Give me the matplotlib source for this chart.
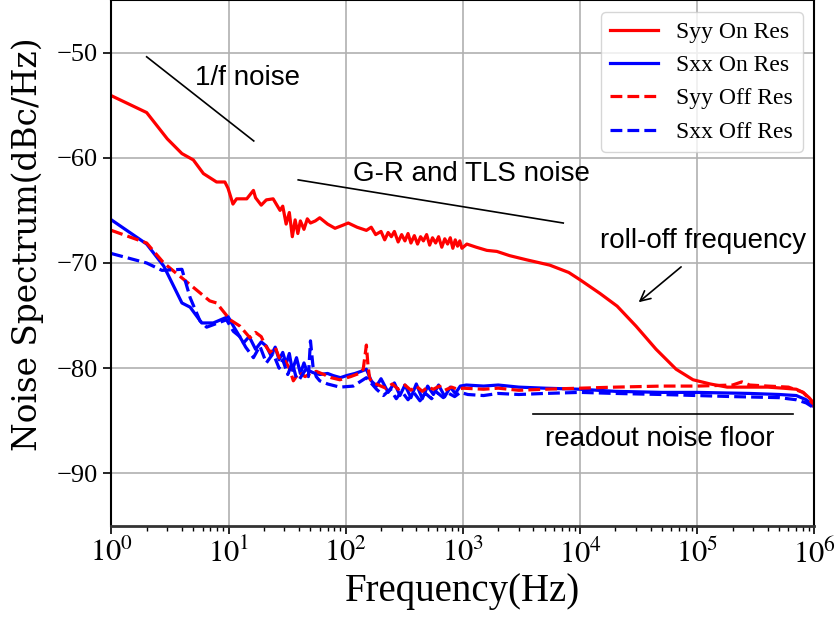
import matplotlib
matplotlib.use("Agg")
import matplotlib.pyplot as plt

plt.rcParams["font.family"] = "serif"
plt.rcParams["font.serif"] = ["Liberation Serif", "DejaVu Serif"]
plt.rcParams["mathtext.fontset"] = "stix"

# ---- data -----------------------------------------------------------
syy_on_f = [1, 2, 3, 4, 5, 6.1, 7.9, 9.3, 9.9, 10.9, 11.7, 14.3, 16.3, 17, 19, 21,
            24, 27.5, 29, 31, 33, 35, 37, 39, 41, 44, 47, 50, 55, 60, 70, 81, 95,
            105, 125, 150, 165, 180, 200, 215, 230, 245, 260, 280, 300, 320, 340,
            360, 385, 410, 435, 460, 490, 520, 550, 585, 620, 660, 700, 740, 780,
            820, 860, 900, 940, 980, 1080, 1300, 1600, 1950, 2500, 3500, 5500,
            8000, 10000, 14800, 20700, 30000, 44500, 66000, 92000, 129000,
            180000, 250000, 400000, 540000, 700000, 800000, 900000, 1e6]
syy_on = [-54.1, -55.7, -58.2, -59.6, -60.2, -61.5, -62.3, -62.3, -62.9, -64.4,
          -63.9, -63.9, -63.1, -63.8, -64.5, -64.0, -63.9, -65.0, -64.6, -66.3,
          -65.2, -67.5, -65.9, -67.2, -66.0, -66.8, -65.8, -66.2, -66.0, -65.7,
          -66.3, -66.7, -66.4, -66.2, -66.6, -66.9, -66.6, -67.3, -67.0, -67.8,
          -67.1, -67.5, -67.0, -68.0, -67.3, -67.9, -67.2, -68.1, -67.4, -68.2,
          -67.5, -67.9, -67.3, -68.3, -67.6, -68.1, -67.5, -68.5, -67.7, -68.2,
          -67.6, -68.6, -67.8, -68.4, -67.9, -68.6, -68.2, -68.5, -68.8, -68.9,
          -69.3, -69.7, -70.2, -70.9, -71.6, -72.9, -74.1, -76.0, -78.2, -80.1,
          -81.1, -81.5, -81.8, -81.8, -81.8, -81.9, -82.0, -82.3, -82.8, -83.4]

sxx_on_f = [1, 2, 2.8, 4.0, 4.7, 5.9, 7.4, 9.9, 11, 13.4, 15, 17, 19, 21, 23, 25,
            27, 29, 31, 33, 35, 38, 41, 44, 46, 52, 60, 70, 78, 90, 102, 120, 135,
            150, 165, 183, 200, 230, 260, 290, 320, 360, 400, 450, 500, 560, 620,
            700, 780, 860, 950, 1070, 1500, 2000, 3000, 5000, 10000, 20000,
            50000, 100000, 280000, 500000, 700000, 850000, 1e6]
sxx_on = [-65.9, -68.2, -70.3, -73.8, -74.2, -75.7, -75.7, -75.1, -76.0, -77.6,
          -77.0, -78.2, -77.5, -77.9, -78.8, -78.0, -79.2, -78.5, -79.6, -78.6,
          -80.2, -79.0, -80.5, -79.5, -80.1, -80.4, -80.6, -80.5, -80.7, -80.9,
          -80.7, -80.5, -80.3, -80.1, -81.2, -81.7, -81.0, -82.3, -81.4, -82.6,
          -81.6, -82.8, -81.5, -82.9, -81.7, -82.5, -81.6, -82.7, -81.8, -82.4,
          -81.7, -81.6, -81.7, -81.6, -81.8, -81.9, -82.0, -82.2, -82.3, -82.3,
          -82.4, -82.5, -82.6, -83.0, -83.7]

syy_off_f = [1, 2, 2.8, 4.4, 6.9, 7.9, 10.3, 12.5, 15.2, 17, 19, 20.5, 22.6, 25,
             27, 30, 33, 35.7, 40, 45, 50, 56, 65, 75, 89, 110, 130, 141, 150,
             155, 160, 172, 190, 220, 250, 280, 320, 360, 400, 450, 500, 560,
             630, 700, 800, 900, 1000, 1500, 2000, 3000, 5000, 10000, 20000,
             50000, 100000, 200000, 240000, 280000, 400000, 600000, 800000,
             900000, 1e6]
syy_off = [-66.9, -68.1, -70.0, -71.8, -73.6, -73.8, -75.4, -76.0, -77.1, -76.6,
           -77.0, -77.8, -78.5, -78.0, -79.0, -79.2, -80.0, -81.2, -80.4, -80.8,
           -80.5, -80.3, -80.6, -80.9, -81.1, -80.8, -80.5, -80.1, -77.8, -79.8,
           -81.0, -81.4, -81.6, -81.9, -81.5, -82.0, -81.6, -82.1, -81.7, -82.2,
           -81.8, -82.0, -81.7, -82.1, -81.8, -82.0, -81.9, -82.0, -81.9, -82.1,
           -82.0, -81.9, -81.8, -81.7, -81.7, -81.6, -81.3, -81.6, -81.7, -81.8,
           -82.3, -82.9, -83.7]

sxx_off_f = [1, 2, 2.7, 4.0, 4.7, 5.7, 6.5, 9.6, 11, 12.5, 14, 16.3, 18.5, 21, 24,
             27, 29, 32, 35, 38, 40, 45, 48, 50, 52.5, 56, 60, 70, 89, 116, 150,
             183, 210, 240, 270, 300, 340, 380, 430, 480, 540, 600, 680, 760, 850,
             950, 1100, 1500, 2000, 3000, 5000, 10000, 20000, 50000, 100000,
             200000, 500000, 700000, 850000, 1e6]
sxx_off = [-69.1, -70.0, -70.7, -70.6, -73.3, -75.5, -76.1, -75.4, -76.5, -77.0,
           -78.0, -79.0, -77.9, -79.5, -78.6, -80.0, -79.2, -80.6, -79.5, -81.0,
           -81.1, -80.2, -80.8, -77.4, -79.8, -80.8, -81.2, -81.5, -81.8, -81.7,
           -80.9, -82.0, -82.6, -82.0, -82.9, -82.2, -83.0, -82.3, -83.1, -82.4,
           -82.9, -82.3, -82.8, -82.4, -82.7, -82.3, -82.5, -82.6, -82.4, -82.5,
           -82.4, -82.3, -82.4, -82.5, -82.6, -82.7, -82.8, -83.0, -83.3, -83.8]

labels = ["Syy On Res", "Sxx On Res", "Syy Off Res", "Sxx Off Res"]
x_ticks = [1, 10, 100, 1e3, 1e4, 1e5, 1e6]
x_ticklabels = [r"$10^{0}$", r"$10^{1}$", r"$10^{2}$", r"$10^{3}$",
                r"$10^{4}$", r"$10^{5}$", r"$10^{6}$"]
y_ticks = [-90, -80, -70, -60, -50]

# guide lines and notes (frequency, dB)
f_line = ([2.0, 16.4], [-50.4, -58.4])
gr_line = ([39.3, 7180], [-62.1, -66.2])
floor_line = ([3935, 650000], [-84.4, -84.4])

fig = plt.figure(figsize=(8.35, 6.17), dpi=100)
ax = fig.add_axes([0.1334, 0.1475, 0.842, 0.8525])

ax.plot(syy_on_f, syy_on, "-", color="red", lw=2.3, label=labels[0])
ax.plot(sxx_on_f, sxx_on, "-", color="blue", lw=2.3, label=labels[1])
ax.plot(syy_off_f, syy_off, "--", color="red", lw=2.3, label=labels[2])
ax.plot(sxx_off_f, sxx_off, "--", color="blue", lw=2.3, label=labels[3])

ax.plot(*f_line, color="black", lw=1.2)
ax.plot(*gr_line, color="black", lw=1.2)
ax.plot(*floor_line, color="black", lw=1.2)

note = dict(family="Liberation Sans", fontsize=20, color="black", va="center")
ax.text(5.2, -52.4, "1/f noise", ha="left", **note)
ax.text(115, -61.5, "G-R and TLS noise", ha="left", **note)
ax.text(14800, -67.9, "roll-off frequency", ha="left", **note)
ax.text(5000, -86.7, "readout noise floor", ha="left", **note)
ax.annotate("", xy=(30300, -73.9), xytext=(75900, -70.2),
            arrowprops=dict(arrowstyle="->", color="black", lw=1.2,
                            mutation_scale=18))

ax.set_xscale("log")
ax.set_xlim(1, 1e6)
ax.set_ylim(-95, -45)
ax.set_xticks(x_ticks)
ax.set_xticklabels(x_ticklabels, fontsize=22)
ax.set_yticks(y_ticks)
ax.set_yticklabels([f"\u2212{abs(v)}" for v in y_ticks], fontsize=19)
ax.tick_params(which="major", length=6, width=1.2)
ax.tick_params(which="minor", length=3.5, width=1)
ax.grid(True, which="major", color="#b0b0b0", lw=1.2)

ax.set_xlabel("Frequency(Hz)", fontsize=28, labelpad=2)
ax.set_ylabel("Noise Spectrum(dBc/Hz)", fontsize=23.6, family="DejaVu Serif")
ax.yaxis.set_label_coords(-0.096, 0.535)

for s in ax.spines.values():
    s.set_linewidth(1.5)
ax.spines["bottom"].set_color("#333333")
ax.spines["bottom"].set_linewidth(2)

ax.legend(loc="upper right", fontsize=17, handlelength=2.0)

fig.savefig("out.png", dpi=100)
